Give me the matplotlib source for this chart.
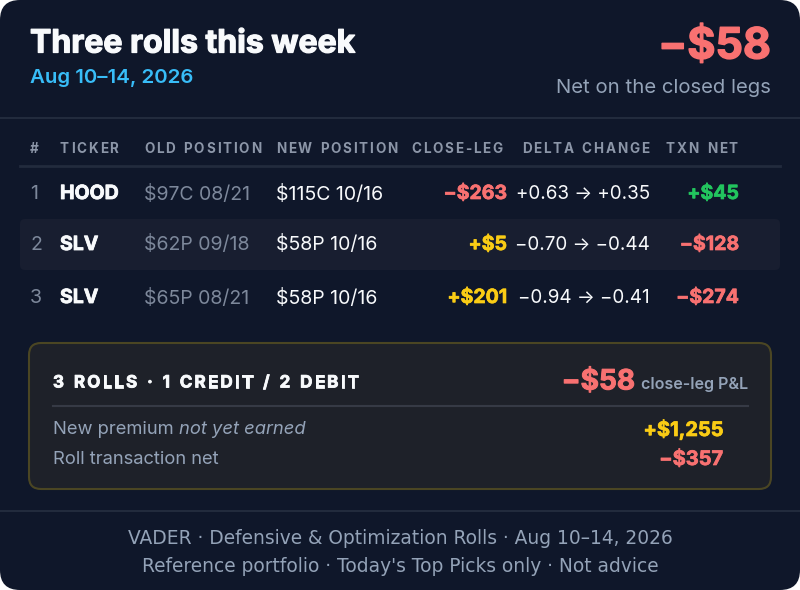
import matplotlib
matplotlib.use("Agg")
import matplotlib.pyplot as plt
from matplotlib.patches import FancyBboxPatch
from matplotlib.lines import Line2D
import matplotlib.patheffects as pe

# ---------------- data ----------------
title = "Three rolls this week"
date_range = "Aug 10–14, 2026"
net_closed = -58
headers = ["#", "TICKER", "OLD POSITION", "NEW POSITION", "CLOSE-LEG", "DELTA CHANGE", "TXN NET"]
tickers = ["HOOD", "SLV", "SLV"]
old_positions = ["$97C 08/21", "$62P 09/18", "$65P 08/21"]
new_positions = ["$115C 10/16", "$58P 10/16", "$58P 10/16"]
close_leg = [-263, 5, 201]
delta_old = [0.63, -0.70, -0.94]
delta_new = [0.35, -0.44, -0.41]
txn_net = [45, -128, -274]
summary_title = "3 ROLLS · 1 CREDIT / 2 DEBIT"
new_premium = 1255
roll_txn_net = -357
footer_lines = ["VADER · Defensive & Optimization Rolls · Aug 10–14, 2026",
                "Reference portfolio · Today's Top Picks only · Not advice"]

# ---------------- style ----------------
W, H = 800, 590
BG = "#0f172a"
ROW_ALT = "#181e30"
LINE = "#222b3d"
WHITE = "#f8fafc"
GRAY = "#94a3b8"
GRAY2 = "#7d889b"
HDR = "#8c96a8"
RED = "#f87171"
GREEN = "#22c55e"
YELLOW = "#facc15"
BLUE = "#38bdf8"
F = "Inter"
HEAVY = "bold"

def pt(px):
    return px * 0.72

def thick(color, lw=0.7):
    return [pe.withStroke(linewidth=lw, foreground=color)]

def money(v, comma=False):
    s = f"{abs(v):,}" if comma else f"{abs(v)}"
    return ("+" if v >= 0 else "−") + "$" + s

def delta(v):
    return ("+" if v >= 0 else "−") + f"{abs(v):.2f}"

fig = plt.figure(figsize=(W / 100, H / 100), dpi=100)
fig.patch.set_facecolor("white")
ax = fig.add_axes([0, 0, 1, 1])
ax.set_xlim(0, W)
ax.set_ylim(H, 0)
ax.axis("off")

card = FancyBboxPatch((0, 0), W, H, boxstyle="round,pad=0,rounding_size=20",
                      fc=BG, ec="none", zorder=0)
ax.add_patch(card)

renderer = fig.canvas.get_renderer()

def text_width(s, **kw):
    t = ax.text(0, 0, s, **kw)
    w = t.get_window_extent(renderer).width
    t.remove()
    return w

def spaced(x, y, s, sp, ha="left", **kw):
    widths = []
    for ch in s:
        if ch == " ":
            widths.append(text_width("a", **kw) * 0.55)
        else:
            widths.append(text_width(ch, **kw))
    total = sum(widths) + sp * (len(s) - 1)
    if ha == "right":
        x0 = x - total
    elif ha == "center":
        x0 = x - total / 2
    else:
        x0 = x
    cx = x0
    for ch, w in zip(s, widths):
        if ch != " ":
            ax.text(cx, y, ch, ha="left", va="center", **kw)
        cx += w + sp

# ---------------- header ----------------
ax.text(30, 44, title, fontsize=pt(32), fontweight=HEAVY, color=WHITE,
        family=F, va="center", ha="left", path_effects=thick(WHITE, 0.9))
ax.text(30, 78, date_range, fontsize=pt(20.5), fontweight="semibold", color=BLUE,
        family=F, va="center", ha="left")
ax.text(771, 47, money(net_closed), fontsize=pt(43), fontweight=HEAVY, color=RED,
        family=F, va="center", ha="right", path_effects=thick(RED, 1.0))
ax.text(771, 88, "Net on the closed legs", fontsize=pt(20.3), color=GRAY,
        family=F, va="center", ha="right")
ax.add_line(Line2D([0, W], [118, 118], color=LINE, lw=1.5))

# ---------------- table ----------------
hdr_kw = dict(fontsize=pt(13.5), fontweight="bold", color=HDR, family=F)
hdr_x = [30, 60, 144, 276, 411, 522, 666]
for hx, h in zip(hdr_x, headers):
    spaced(hx, 149, h, 1.8, **hdr_kw)
ax.add_line(Line2D([20, 780], [166, 166], color=LINE, lw=2))

row_y = [193, 244, 297]
for i in range(len(tickers)):
    y = row_y[i] + 1
    if i % 2 == 1:
        ax.add_patch(FancyBboxPatch((20, row_y[i] - 25), 760, 51,
                                    boxstyle="round,pad=0,rounding_size=5",
                                    fc=ROW_ALT, ec="none", zorder=0.5))
    rk = dict(fontsize=pt(19.5), family=F, va="center")
    ax.text(30, y, str(i + 1), color=GRAY2, ha="left", **rk)
    ax.text(60, y, tickers[i], color=WHITE, fontweight=HEAVY, ha="left",
            path_effects=thick(WHITE, 0.6), **rk)
    ax.text(144, y, old_positions[i], color=GRAY2, ha="left", **rk)
    ax.text(276, y, new_positions[i], color=WHITE, ha="left", **rk)
    cl = close_leg[i]
    c = YELLOW if cl >= 0 else RED
    ax.text(507, y, money(cl), color=c, fontweight=HEAVY, ha="right",
            path_effects=thick(c, 0.5), **rk)
    ax.text(650, y, f"{delta(delta_old[i])} → {delta(delta_new[i])}",
            color=WHITE, ha="right", fontsize=pt(18.8), family=F, va="center")
    tn = txn_net[i]
    c = GREEN if tn >= 0 else RED
    ax.text(739, y, money(tn), color=c, fontweight=HEAVY, ha="right",
            path_effects=thick(c, 0.5), **rk)

# ---------------- summary box ----------------
ax.add_patch(FancyBboxPatch((29, 343), 742, 146,
                            boxstyle="round,pad=0,rounding_size=12",
                            fc="#1e2129", ec="#4b4623", lw=1.5, zorder=1))
spaced(53, 383, summary_title, 2.2, fontsize=pt(17), fontweight=HEAVY,
       color=WHITE, family=F, zorder=2, path_effects=thick(WHITE, 0.6))
ax.text(748, 385, "close-leg P&L", fontsize=pt(16), fontweight="semibold",
        color=GRAY, family=F, va="center", ha="right", zorder=2)
clw = text_width("close-leg P&L", fontsize=pt(16), fontweight="semibold", family=F)
ax.text(748 - clw - 6, 382, money(net_closed), fontsize=pt(28), fontweight=HEAVY,
        color=RED, family=F, va="center", ha="right", zorder=2,
        path_effects=thick(RED, 0.7))
ax.add_line(Line2D([53, 748], [406, 406], color="#363a45", lw=1.5, zorder=2))

lx = 53
fs_l = pt(18.4)
t1 = "New premium "
ax.text(lx, 430, t1, fontsize=fs_l, color=GRAY, family=F, va="center",
        ha="left", zorder=2)
w1 = text_width(t1 + "|", fontsize=fs_l, family=F) - text_width("|", fontsize=fs_l, family=F)
ax.text(lx + w1, 430, "not yet earned", fontsize=fs_l, color=GRAY, family=F,
        style="italic", va="center", ha="left", zorder=2)
ax.text(lx, 460, "Roll transaction net", fontsize=fs_l, color=GRAY, family=F,
        va="center", ha="left", zorder=2)
ax.text(723, 430, money(new_premium, comma=True), fontsize=pt(20), fontweight=HEAVY,
        color=YELLOW, family=F, va="center", ha="right", zorder=2,
        path_effects=thick(YELLOW, 0.5))
ax.text(723, 460, money(roll_txn_net, comma=True), fontsize=pt(20), fontweight=HEAVY,
        color=RED, family=F, va="center", ha="right", zorder=2,
        path_effects=thick(RED, 0.5))

# ---------------- footer ----------------
ax.add_line(Line2D([0, W], [511, 511], color=LINE, lw=1.5))
ax.text(400, 538, footer_lines[0], fontsize=pt(18.6), color=GRAY, family="DejaVu Sans",
        va="center", ha="center")
ax.text(400, 566, footer_lines[1], fontsize=pt(18.6), color=GRAY, family="DejaVu Sans",
        va="center", ha="center")

fig.savefig("out.png", dpi=100, facecolor="white")
